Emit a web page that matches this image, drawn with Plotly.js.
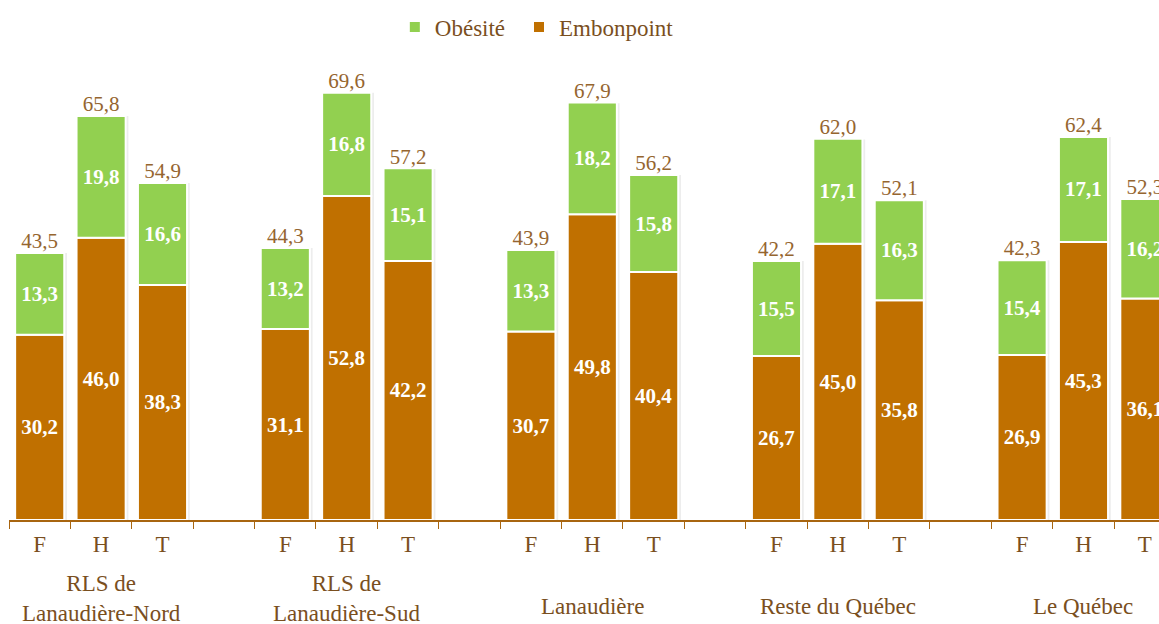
<!DOCTYPE html>
<html>
<head>
<meta charset="utf-8">
<script src="https://cdn.plot.ly/plotly-3.0.1.min.js"></script>
<style>
html,body{margin:0;padding:0;background:#fff;}
#chart{width:1159px;height:624px;}
</style>
</head>
<body>
<div id="chart"></div>
<script>
// ---- data ----
const groups = ["RLS de<br>Lanaudière-Nord", "RLS de<br>Lanaudière-Sud", "Lanaudière", "Reste du Québec", "Le Québec"];
const sexes = ["F", "H", "T"];
const embonpoint = [30.2, 46.0, 38.3, 31.1, 52.8, 42.2, 30.7, 49.8, 40.4, 26.7, 45.0, 35.8, 26.9, 45.3, 36.1];
const obesite   = [13.3, 19.8, 16.6, 13.2, 16.8, 15.1, 13.3, 18.2, 15.8, 15.5, 17.1, 16.3, 15.4, 17.1, 16.2];
const totals    = [43.5, 65.8, 54.9, 44.3, 69.6, 57.2, 43.9, 67.9, 56.2, 42.2, 62.0, 52.1, 42.3, 62.4, 52.3];

// ---- build ----
const fmt = v => v.toFixed(1).replace('.', ',');
const xs = [], tickText = [];
groups.forEach((g, gi) => sexes.forEach((s, si) => { xs.push(gi * 4 + si); tickText.push(s); }));
const nSlots = groups.length * 4;
const boundaries = [];
for (let k = 0; k <= nSlots; k++) boundaries.push(k - 0.5);

const brown = '#C07000';
const green = '#92D050';
const textBrown = '#95652F';
const labelBrown = '#7A4F1E';
const serif = 'Liberation Serif, Times New Roman, serif';

const shadow = {
  type: 'bar', x: xs.map(x => x + 0.02), y: totals.map(t => t + 0.45), base: -0.45,
  width: 0.85, marker: {color: 'rgba(0,0,0,0.07)', line: {width: 0}},
  hoverinfo: 'skip', showlegend: false
};
const tEmb = {
  type: 'bar', name: 'Embonpoint', x: xs, y: embonpoint, width: 0.8,
  marker: {color: brown, line: {color: '#ffffff', width: 2}},
  text: embonpoint.map(fmt), textposition: 'inside', insidetextanchor: 'middle',
  textangle: 0, constraintext: 'none',
  textfont: {family: serif, size: 21, color: '#ffffff', weight: 'bold'},
  legend: 'legend2'
};
const tOb = {
  type: 'bar', name: 'Obésité', x: xs, y: obesite, base: embonpoint, width: 0.8,
  marker: {color: green, line: {color: '#ffffff', width: 2}},
  text: obesite.map(fmt), textposition: 'inside', insidetextanchor: 'middle',
  textangle: 0, constraintext: 'none',
  textfont: {family: serif, size: 21, color: '#ffffff', weight: 'bold'},
  legend: 'legend'
};
const tTot = {
  type: 'scatter', mode: 'text', x: xs, y: totals, text: totals.map(fmt),
  textposition: 'top center', cliponaxis: false,
  textfont: {family: serif, size: 21, color: textBrown},
  hoverinfo: 'skip', showlegend: false
};

const annotations = groups.map((g, gi) => ({
  xref: 'x', yref: 'paper', x: gi * 4 + 1,
  y: g.indexOf('<br>') >= 0 ? -0.163 : -0.18,
  yanchor: 'middle', xanchor: 'center', showarrow: false, align: 'center',
  text: g, font: {family: serif, size: 23, color: labelBrown}
}));

const legendBase = {orientation: 'h', xanchor: 'left', y: 1.027, yanchor: 'middle',
  font: {family: serif, size: 23, color: labelBrown}, itemwidth: 30, bgcolor: 'rgba(0,0,0,0)'};

const layout = {
  width: 1159, height: 624,
  margin: {l: 9, r: 0, t: 40, b: 104},
  paper_bgcolor: '#ffffff', plot_bgcolor: '#ffffff',
  barmode: 'overlay',
  showlegend: true,
  font: {family: serif},
  legend: Object.assign({}, legendBase, {x: 0.3355}),
  legend2: Object.assign({}, legendBase, {x: 0.4435}),
  xaxis: {
    range: [-0.5, 18.23], showgrid: false, zeroline: false,
    showline: true, linecolor: '#A86510', linewidth: 1.5,
    tickmode: 'array', tickvals: xs, ticktext: tickText, ticks: '',
    tickfont: {family: serif, size: 23, color: labelBrown},
    ticklabelstandoff: 3,
    minor: {tickmode: 'array', tickvals: boundaries, ticks: 'outside', ticklen: 7,
            tickcolor: '#A86510', tickwidth: 1, showgrid: false}
  },
  yaxis: {range: [0, 78.2], visible: false, showgrid: false, zeroline: false},
  annotations: annotations
};

Plotly.newPlot('chart', [shadow, tEmb, tOb, tTot], layout, {displayModeBar: false, staticPlot: true});
</script>
</body>
</html>
